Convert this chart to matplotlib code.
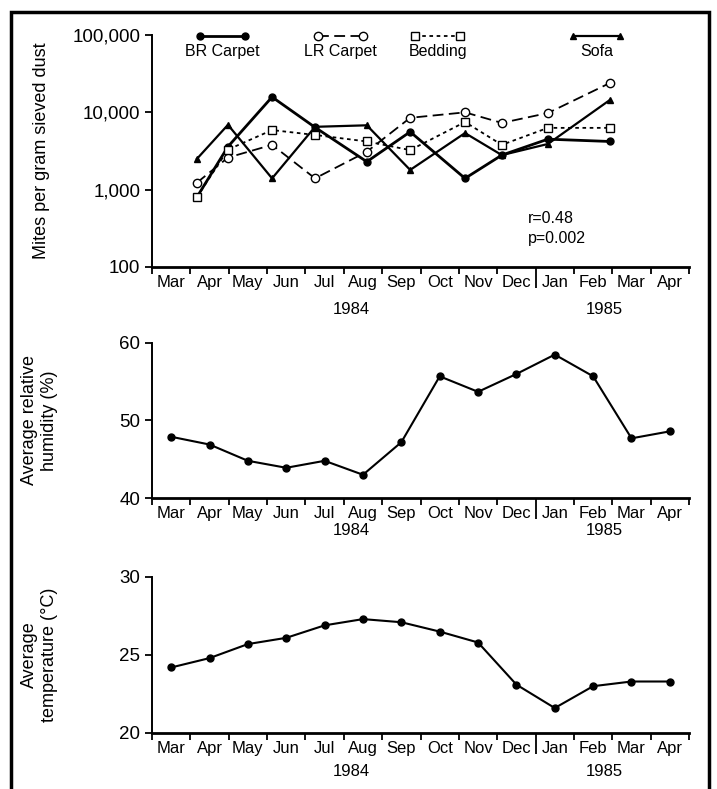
import matplotlib
matplotlib.use('Agg')
import matplotlib.pyplot as plt
from matplotlib.patches import Rectangle
from matplotlib.transforms import blended_transform_factory

plt.rcParams['font.family'] = ['Liberation Sans', 'DejaVu Sans']
plt.rcParams['font.size'] = 11.5

# month axis runs Mar 1984 .. Apr 1985, one unit per month
months = ['Mar', 'Apr', 'May', 'Jun', 'Jul', 'Aug', 'Sep', 'Oct',
          'Nov', 'Dec', 'Jan', 'Feb', 'Mar', 'Apr']

# mite sampling dates (fractional months from 1 Mar 1984)
sample_month = [1.17, 1.98, 3.13, 4.25, 5.6, 6.73, 8.16, 9.12, 10.32, 11.94]
br_carpet = [800, 3600, 15800, 6400, 2300, 5600, 1400, 2800, 4500, 4200]
lr_carpet = [1230, 2600, 3800, 1400, 3100, 8500, 10000, 7300, 9800, 24000]
bedding = [800, 3300, 5900, 5100, 4200, 3250, 7500, 3800, 6300, 6300]
sofa = [2500, 6900, 1400, 6500, 6800, 1800, 5400, 2800, 3900, 14500]

# monthly climate averages, plotted mid-month
climate_month = [m + 0.5 for m in range(14)]
humidity = [47.9, 46.9, 44.8, 43.9, 44.8, 43.0, 47.2, 55.7, 53.7, 56.0, 58.5, 55.7, 47.7, 48.6]
temperature = [24.2, 24.8, 25.7, 26.1, 26.9, 27.3, 27.1, 26.5, 25.8, 23.1, 21.6, 23.0, 23.3, 23.3]

styles = {
    'BR Carpet': dict(color='black', lw=2.0, ls='-', marker='o', ms=5, mfc='black'),
    'LR Carpet': dict(color='black', lw=1.3, ls=(0, (6, 3)), marker='o', ms=6, mfc='white'),
    'Bedding': dict(color='black', lw=1.3, ls=(0, (2, 2)), marker='s', ms=6, mfc='white'),
    'Sofa': dict(color='black', lw=1.6, ls='-', marker='^', ms=5, mfc='black'),
}


def month_axis(ax, year_y):
    ax.set_xlim(0, 14)
    ax.set_xticks(range(15))
    ax.set_xticklabels([])
    ax.set_xticks(climate_month, minor=True)
    ax.set_xticklabels(months, minor=True, fontsize=12)
    ax.tick_params(axis='x', which='major', direction='out', length=5, width=1.3)
    ax.tick_params(axis='x', which='minor', length=0, pad=6)
    ax.tick_params(axis='y', direction='out', length=5, width=1.3, labelsize=13.5)
    ax.xaxis.get_major_ticks()[10].tick1line.set_markersize(15)
    for s in ['top', 'right']:
        ax.spines[s].set_visible(False)
    ax.spines['left'].set_linewidth(1.4)
    ax.spines['bottom'].set_linewidth(2.0)
    tr = blended_transform_factory(ax.transData, ax.transAxes)
    ax.text(5.2, year_y, '1984', transform=tr, ha='center', va='center', fontsize=12)
    ax.text(11.8, year_y, '1985', transform=tr, ha='center', va='center', fontsize=12)


def draw_key(ax, x0, x1, label, st):
    ax.plot([x0, x1], [0.996, 0.996], transform=ax.transAxes, clip_on=False, **st)
    ax.text((x0 + x1) / 2, 0.93, label, transform=ax.transAxes, ha='center', va='center')


fig = plt.figure(figsize=(7.17, 7.89), dpi=100)
fig.patches.append(Rectangle((11 / 717, -0.02), 698 / 717, 1 - 12 / 789 + 0.02,
                             transform=fig.transFigure, fill=False, lw=2.5, ec='black'))

# mites
ax1 = fig.add_axes([0.212, 0.6616, 0.749, 0.294])
for name, vals in [('BR Carpet', br_carpet), ('LR Carpet', lr_carpet),
                   ('Bedding', bedding), ('Sofa', sofa)]:
    ax1.plot(sample_month, vals, **styles[name])
ax1.set_yscale('log')
ax1.set_ylim(100, 100000)
ax1.set_yticks([100, 1000, 10000, 100000])
ax1.set_yticklabels(['100', '1,000', '10,000', '100,000'])
ax1.minorticks_off()
month_axis(ax1, -0.185)
ax1.set_xticks(climate_month, minor=True)
ax1.set_xticklabels(months, minor=True, fontsize=12)
ax1.tick_params(axis='x', which='minor', length=0, pad=6)
ax1.set_ylabel('Mites per gram sieved dust', fontsize=13)
ax1.yaxis.set_label_coords(-0.19, 0.5)
draw_key(ax1, 0.089, 0.173, 'BR Carpet', styles['BR Carpet'])
draw_key(ax1, 0.309, 0.393, 'LR Carpet', styles['LR Carpet'])
draw_key(ax1, 0.490, 0.574, 'Bedding', styles['Bedding'])
draw_key(ax1, 0.784, 0.872, 'Sofa', styles['Sofa'])
ax1.text(0.70, 0.211, 'r=0.48', transform=ax1.transAxes, va='center')
ax1.text(0.70, 0.125, 'p=0.002', transform=ax1.transAxes, va='center')

# humidity
ax2 = fig.add_axes([0.212, 0.3688, 0.749, 0.1965])
ax2.plot(climate_month, humidity, color='black', lw=1.5, marker='o', ms=5)
ax2.set_ylim(40, 60)
ax2.set_yticks([40, 50, 60])
month_axis(ax2, -0.21)
ax2.set_ylabel('Average relative\nhumidity (%)', fontsize=13)
ax2.yaxis.set_label_coords(-0.175, 0.5)

# temperature
ax3 = fig.add_axes([0.212, 0.0710, 0.749, 0.1977])
ax3.plot(climate_month, temperature, color='black', lw=1.5, marker='o', ms=5)
ax3.set_ylim(20, 30)
ax3.set_yticks([20, 25, 30])
month_axis(ax3, -0.25)
ax3.set_ylabel('Average\ntemperature (°C)', fontsize=13)
ax3.yaxis.set_label_coords(-0.175, 0.5)

fig.savefig('out.png', dpi=100)
